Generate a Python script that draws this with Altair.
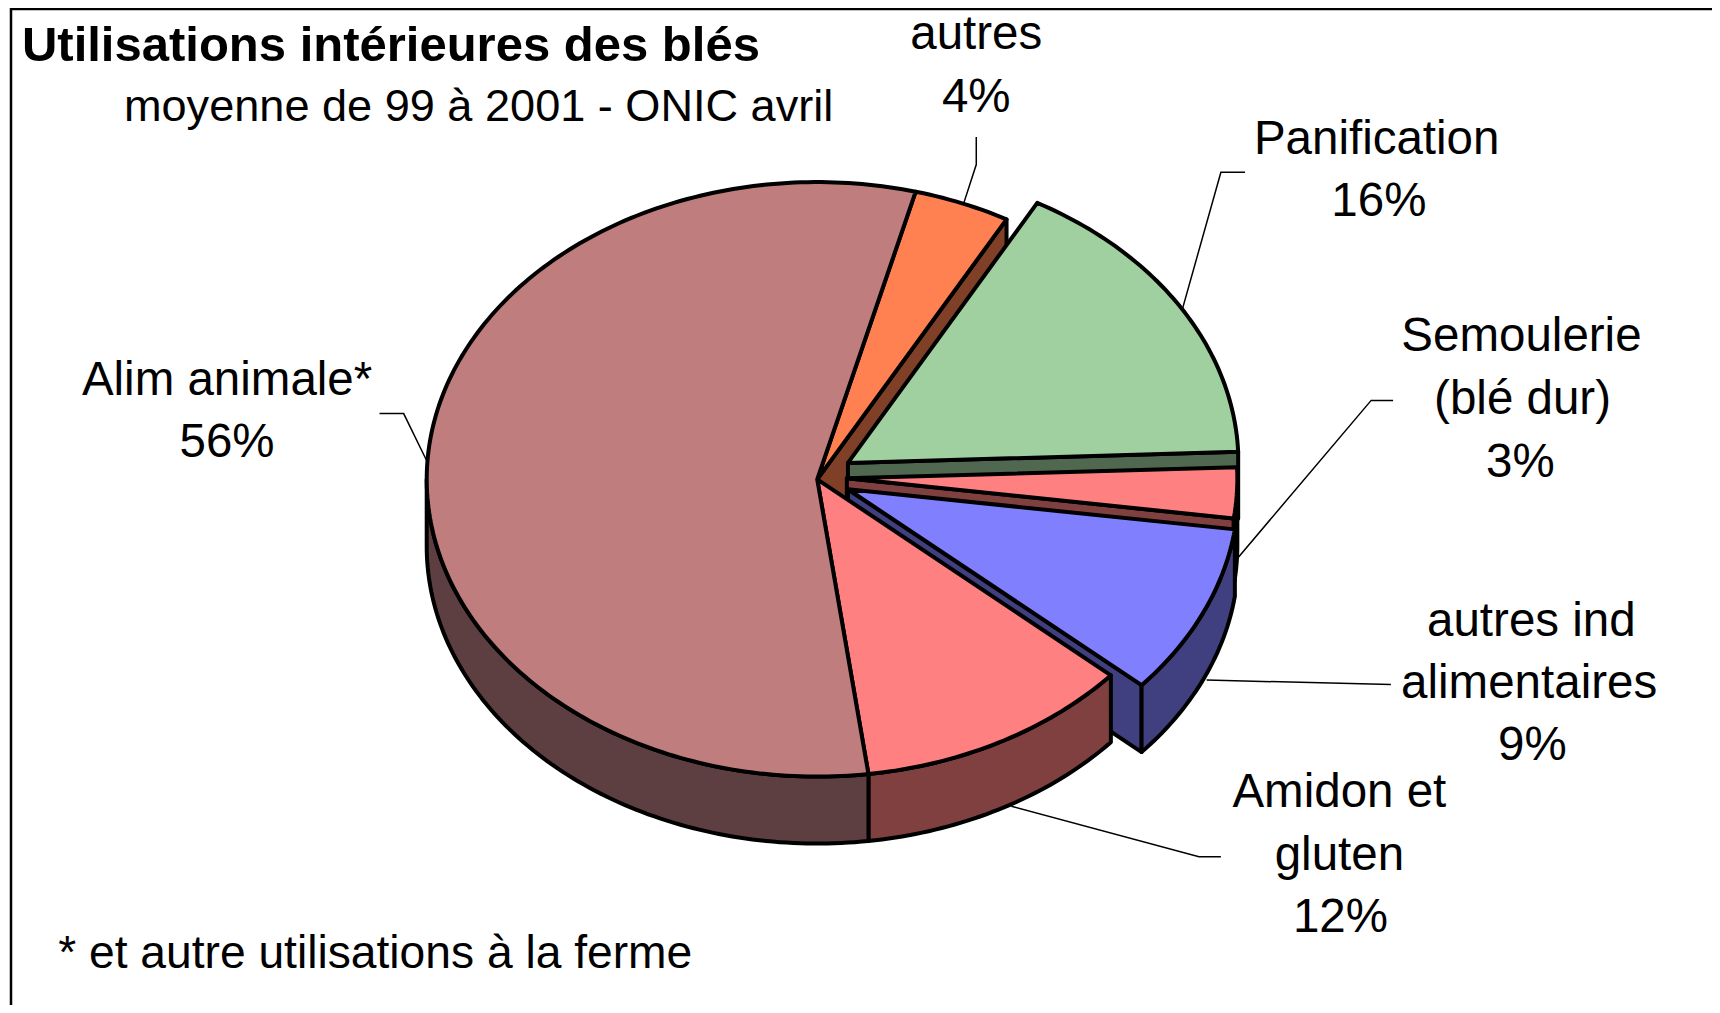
import math
import altair as alt

# ---- values (percent of use, as the slice angles show them) ----
categories = ["autres", "Panification", "Semoulerie (blé dur)", "autres ind alimentaires", "Amidon et gluten", "Alim animale*"]
shares = [4.0, 16.35, 2.75, 9.3, 11.45, 56.15]
top_colors = ["#FF8050", "#A0CFA0", "#FF8080", "#8080FF", "#FF8080", "#BF7D7D"]
side_colors = ["#804028", "#506850", "#804040", "#404080", "#804040", "#5E3F41"]

# ---- pie geometry ----
S = 1720 / 1568
CX, CY = 745 * S, 437 * S
A, B, T = 356 * S, 271 * S, 61 * S
START = 14.6
EXPLODE = [(0, 0), (28 * S, -15 * S), (27 * S, -1 * S), (28 * S, 9 * S), (0, 0), (0, 0)]
OFFX, OFFY = -8, -8  # page margin


def pt(ax, ay, ang, dy=0):
    r = math.radians(ang)
    return [ax + A * math.sin(r) + OFFX, ay - B * math.cos(r) + dy + OFFY]


def arc(ax, ay, a0, a1, dy=0):
    n = max(2, int(abs(a1 - a0)) + 1)
    return [pt(ax, ay, a0 + (a1 - a0) * i / (n - 1), dy) for i in range(n)]


def feat(name, coords, fill):
    return {"type": "Feature", "properties": {"name": name, "fill": fill},
            "geometry": {"type": "Polygon", "coordinates": [coords + [coords[0]]]}}


features = []
ang = START
for i, (cat, share) in enumerate(zip(categories, shares)):
    a0, a1 = ang, ang + share * 3.6
    ang = a1
    ax, ay = CX + EXPLODE[i][0], CY + EXPLODE[i][1]
    apex = [ax + OFFX, ay + OFFY]
    apex_low = [apex[0], apex[1] + T]
    # cut face at the clockwise end of the slice
    if a1 < 180:
        features.append(feat(cat + " cut", [apex, pt(ax, ay, a1), pt(ax, ay, a1, T), apex_low], side_colors[i]))
    # outer wall, only the front half shows
    w0, w1 = max(a0, 90), min(a1, 270)
    if w1 > w0:
        features.append(feat(cat + " wall", arc(ax, ay, w0, w1) + arc(ax, ay, w1, w0, T), side_colors[i]))
    features.append(feat(cat + " top", [apex] + arc(ax, ay, a0, a1), top_colors[i]))

# ---- leaders, in reference pixels (shrunk picture) ----
leaders = [
    [(890, 125), (890, 150), (878, 187)],
    [(1135, 157), (1113, 157), (1077, 285)],
    [(1270, 365), (1250, 365), (1123, 515)],
    [(1268, 624), (1100, 620)],
    [(1113, 781), (1093, 781), (922, 735)],
    [(346, 377), (368, 377), (389, 420)],
]
leader_features = [{"type": "Feature", "properties": {},
                    "geometry": {"type": "LineString",
                                 "coordinates": [[x * S + OFFX, y * S + OFFY] for x, y in line]}}
                   for line in leaders]

frame_features = [{"type": "Feature", "properties": {},
                   "geometry": {"type": "LineString",
                                "coordinates": [[11 + OFFX, 1100], [11 + OFFX, 1], [1800, 1]]}}]

# ---- text ----
labels = [
    ("autres", 890, 45), ("4%", 890, 102),
    ("Panification", 1255, 140), ("16%", 1257, 197),
    ("Semoulerie", 1387, 320), ("(blé dur)", 1388, 377), ("3%", 1386, 435),
    ("autres ind", 1396, 580), ("alimentaires", 1394, 636), ("9%", 1397, 693),
    ("Amidon et", 1221, 736), ("gluten", 1221, 793), ("12%", 1222, 850),
    ("Alim animale*", 207, 360), ("56%", 207, 417),
]
label_rows = [{"t": t, "x": x * S + OFFX, "y": y * S + OFFY} for t, x, y in labels]

proj = alt.Projection(type="identity", scale=1, translate=[0, 0])
no_axis = dict(scale=None, axis=None)

pie = alt.Chart(alt.Data(values=features)).mark_geoshape(
    stroke="black", strokeWidth=4, strokeJoin="round"
).encode(fill=alt.Fill("properties.fill:N", scale=None)).project(**proj.to_dict())

lead = alt.Chart(alt.Data(values=leader_features)).mark_geoshape(
    filled=False, stroke="black", strokeWidth=1.5
).project(**proj.to_dict())

frame = alt.Chart(alt.Data(values=frame_features)).mark_geoshape(
    filled=False, stroke="black", strokeWidth=2.5
).project(**proj.to_dict())

text = alt.Chart(alt.Data(values=label_rows)).mark_text(
    font="Liberation Sans", fontSize=47.5, align="center", baseline="alphabetic", color="black"
).encode(x=alt.X("x:Q", **no_axis), y=alt.Y("y:Q", **no_axis), text="t:N")


def note(txt, x, y, size, weight="normal"):
    return alt.Chart(alt.Data(values=[{"t": txt, "x": x * S + OFFX, "y": y * S + OFFY}])).mark_text(
        font="Liberation Sans", fontSize=size, fontWeight=weight, align="left",
        baseline="alphabetic", color="black"
    ).encode(x=alt.X("x:Q", **no_axis), y=alt.Y("y:Q", **no_axis), text="t:N")


chart = alt.layer(
    frame, lead, pie, text,
    note("Utilisations intérieures des blés", 20, 56, 49, "bold"),
    note("moyenne de 99 à 2001 - ONIC avril", 113, 110, 45.1),
    note("* et autre utilisations à la ferme", 53, 882, 46.2),
).properties(width=1704, height=997, padding=0, background="white"
).configure_view(stroke=None)

chart.save("out.html", embed_options={"renderer": "svg", "actions": False})
